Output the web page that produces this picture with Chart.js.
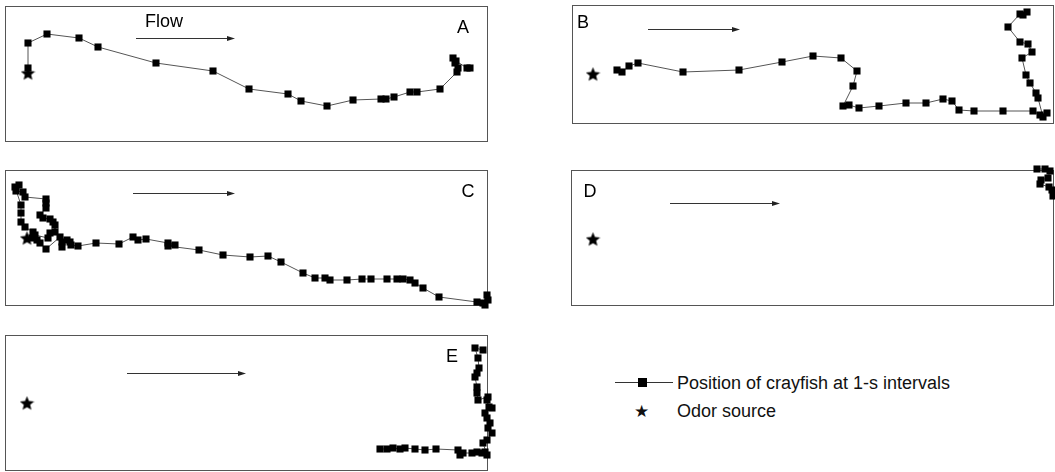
<!DOCTYPE html>
<html>
<head>
<meta charset="utf-8">
<script src="https://cdn.jsdelivr.net/npm/chart.js@4.4.1/dist/chart.umd.min.js"></script>
<style>
  body { margin: 0; background: #fff; width: 1055px; height: 472px; position: relative; overflow: hidden;
         font-family: "Liberation Sans", sans-serif; color: #111; }
  canvas { position: absolute; }
  .legend { position: absolute; left: 614px; top: 369px; font-size: 18px; line-height: 28px; }
  .legend .row { position: relative; height: 28px; padding-left: 63px; white-space: nowrap; }
  .legend .line { position: absolute; left: 1px; top: 13px; width: 58px; border-top: 1px solid #333; }
  .legend .sq { position: absolute; left: 24px; top: 9px; width: 9px; height: 9px; background: #000; }
  .legend .star { position: absolute; left: 20px; top: 0; font-family: "DejaVu Sans"; font-size: 17px; }
</style>
</head>
<body>
<canvas id="cA"></canvas>
<canvas id="cB"></canvas>
<canvas id="cC"></canvas>
<canvas id="cD"></canvas>
<canvas id="cE"></canvas>
<div class="legend">
  <div class="row"><span class="line"></span><span class="sq"></span>Position of crayfish at 1-s intervals</div>
  <div class="row"><span class="star">★</span>Odor source</div>
</div>
<script>
// crayfish positions at 1-s intervals, arena units (x to the right, y down from top wall)
const trackA = [[23,62],[23,37],[42,28],[74,32],[93,41],[151,57],[208,65],[244,83],[283,88],[296,95],
  [322,100],[348,94],[376,93],[381,93],[389,91],[405,86],[412,86],[435,83],[452,66],[453,62],
  [450,57],[448,52],[451,55],[462,62],[465,62]];
const trackB = [[45,65],[50,67],[57,61],[66,58],[111,67],[167,65],[210,57],[241,51],[269,53],[285,66],
  [281,81],[271,101],[277,100],[287,103],[307,101],[334,98],[354,98],[371,94],[380,96],[387,105],
  [402,106],[431,106],[461,106],[468,110],[475,108],[471,112],[466,93],[464,88],[458,78],[454,70],
  [450,53],[460,47],[456,39],[448,37],[436,22],[448,9],[455,7],[451,10]];
const trackC = [[28,62],[20,57],[16,52],[16,43],[16,35],[10,17],[14,15],[11,21],[18,22],[20,27],
  [41,29],[41,33],[41,38],[35,45],[38,48],[45,49],[48,52],[50,55],[50,62],[45,63],[43,68],[30,65],
  [27,68],[32,70],[35,73],[41,79],[55,67],[57,72],[57,77],[62,70],[65,72],[66,75],[73,76],[91,73],
  [114,74],[128,67],[133,70],[141,69],[163,73],[170,75],[163,76],[194,80],[218,85],[245,87],[263,86],
  [276,92],[298,103],[310,108],[320,108],[325,110],[342,110],[357,109],[366,109],[382,109],[392,109],
  [398,109],[405,110],[410,113],[418,118],[434,127],[472,132],[478,133],[482,125],[483,130],[480,135]];
const trackD = [[466,-1],[474,-1],[479,1],[477,8],[470,10],[469,14],[478,17],[481,20],[482,26]];
const trackE = [[375,114],[382,114],[388,113],[395,114],[400,113],[410,114],[420,115],[431,114],
  [453,115],[455,120],[458,118],[467,118],[472,117],[477,118],[480,117],[482,120],[478,108],[482,105],
  [487,98],[483,93],[485,88],[482,83],[480,78],[487,73],[484,72],[482,65],[483,62],[473,65],[472,58],
  [472,52],[470,42],[472,38],[474,33],[473,23],[470,13],[478,15]];
// odor source positions
const starA = [23, 67];
const starB = [21, 69];
const starC = [22, 68];
const starD = [22, 69];
const starE = [22, 68];
const panelLabels = ["A", "B", "C", "D", "E"];

const PAD = 12;
const panels = [
  { id: "cA", left: 5,   top: 6,   w: 483, h: 136, track: trackA, star: starA, arrow: [131, 230, 32], label: [458, 22], flow: [159, 16] },
  { id: "cB", left: 572, top: 5,   w: 482, h: 119, track: trackB, star: starB, arrow: [76, 168, 24],  label: [11, 18] },
  { id: "cC", left: 5,   top: 170, w: 483, h: 136, track: trackC, star: starC, arrow: [128, 230, 23], label: [463, 22] },
  { id: "cD", left: 571, top: 170, w: 483, h: 136, track: trackD, star: starD, arrow: [99, 209, 33],  label: [19, 22] },
  { id: "cE", left: 5,   top: 335, w: 483, h: 136, track: trackE, star: starE, arrow: [122, 241, 38], label: [447, 22] }
];

// filled five-point star used as the odor-source marker
function makeStar(size) {
  const c = document.createElement("canvas");
  c.width = size; c.height = size;
  const g = c.getContext("2d");
  const cx = size / 2, cy = size / 2 + 0.8, R = size / 2, r = R * 0.45;
  g.beginPath();
  for (let i = 0; i < 10; i++) {
    const rad = i % 2 ? r : R;
    const a = -Math.PI / 2 + i * Math.PI / 5;
    g.lineTo(cx + rad * Math.cos(a), cy + rad * Math.sin(a));
  }
  g.closePath();
  g.fillStyle = "#000";
  g.fill();
  return c;
}
const starImg = makeStar(15);

const labelFont = '18px "Liberation Sans", sans-serif';

// frame, flow arrow and panel letter
const decor = {
  id: "decor",
  beforeDatasetsDraw(chart, args, opts) {
    const { ctx, chartArea: a } = chart;
    const sx = chart.scales.x, sy = chart.scales.y;
    ctx.save();
    ctx.strokeStyle = "#555";
    ctx.fillStyle = "#222";
    ctx.lineWidth = 1;
    ctx.strokeRect(Math.round(a.left) + 0.5, Math.round(a.top) + 0.5, Math.round(a.width) - 1, Math.round(a.height) - 1);

    const [x1, x2, ay] = opts.arrow;
    const px1 = sx.getPixelForValue(x1), px2 = sx.getPixelForValue(x2);
    const py = Math.round(sy.getPixelForValue(ay)) + 0.5;
    ctx.strokeStyle = "#333";
    ctx.beginPath(); ctx.moveTo(px1, py); ctx.lineTo(px2 - 4, py); ctx.stroke();
    ctx.beginPath(); ctx.moveTo(px2, py); ctx.lineTo(px2 - 8, py - 2.5); ctx.lineTo(px2 - 8, py + 2.5); ctx.closePath(); ctx.fill();

    ctx.fillStyle = "#000";
    ctx.font = labelFont;
    ctx.textAlign = "center";
    ctx.textBaseline = "middle";
    ctx.fillText(opts.text, sx.getPixelForValue(opts.label[0]), sy.getPixelForValue(opts.label[1]));
    if (opts.flow) ctx.fillText("Flow", sx.getPixelForValue(opts.flow[0]), sy.getPixelForValue(opts.flow[1]));
    ctx.restore();
  }
};

panels.forEach((p, i) => {
  const cv = document.getElementById(p.id);
  cv.width = p.w + 2 * PAD;
  cv.height = p.h + 2 * PAD;
  cv.style.left = (p.left - PAD) + "px";
  cv.style.top = (p.top - PAD) + "px";

  new Chart(cv.getContext("2d"), {
    type: "scatter",
    data: {
      datasets: [
        {
          label: "Position of crayfish at 1-s intervals",
          data: p.track.map(([x, y]) => ({ x, y })),
          showLine: true,
          borderColor: "#555",
          borderWidth: 1,
          pointStyle: "rect",
          pointRadius: 5,
          pointBackgroundColor: "#000",
          pointBorderWidth: 0,
          clip: false
        },
        {
          label: "Odor source",
          data: [{ x: p.star[0], y: p.star[1] }],
          pointStyle: starImg,
          clip: false
        }
      ]
    },
    options: {
      responsive: false,
      animation: false,
      events: [],
      layout: { padding: PAD },
      scales: {
        x: { type: "linear", min: 0, max: p.w, display: false },
        y: { type: "linear", min: 0, max: p.h, reverse: true, display: false }
      },
      plugins: {
        legend: { display: false },
        tooltip: { enabled: false },
        decor: { arrow: p.arrow, label: p.label, text: panelLabels[i], flow: p.flow }
      }
    },
    plugins: [decor]
  });
});
</script>
</body>
</html>
